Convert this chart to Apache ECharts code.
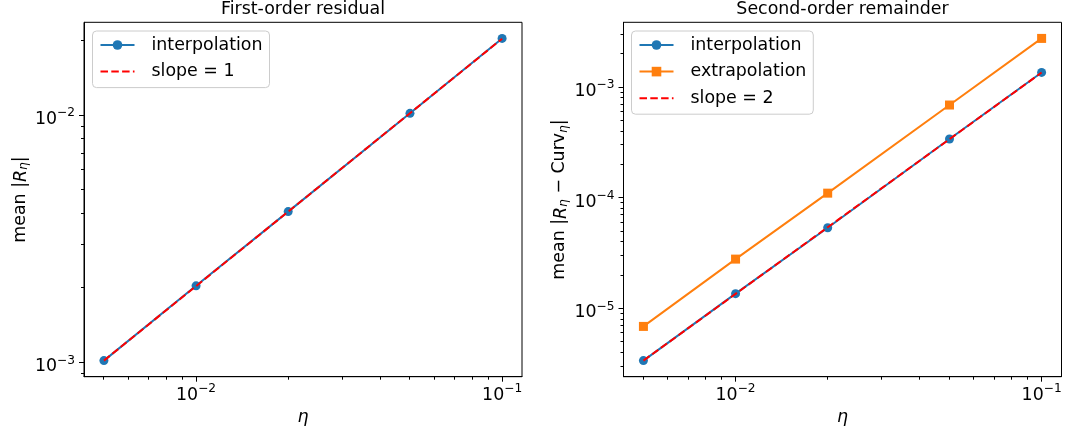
<!DOCTYPE html>
<html>
<head>
<meta charset="utf-8">
<script src="https://cdn.jsdelivr.net/npm/echarts@6/dist/echarts.min.js"></script>
<style>
html,body{margin:0;padding:0;background:#fff;}
#c{width:1067px;height:433px;}
</style>
</head>
<body>
<div id="c"></div>
<script>
// ---------- data ----------
const eta = [0.005, 0.01, 0.02, 0.05, 0.1];
const firstInterp = [0.001017, 0.00204, 0.00407, 0.01016, 0.0204];
const firstSlope1 = [0.001017, 0.002034, 0.004068, 0.01017, 0.02034];
const secondInterp = [3.38e-6, 1.36e-5, 5.36e-5, 3.39e-4, 1.355e-3];
const secondExtrap = [6.88e-6, 2.79e-5, 1.10e-4, 6.88e-4, 2.75e-3];
const secondSlope2 = [3.38e-6, 1.352e-5, 5.408e-5, 3.38e-4, 1.352e-3];

const titles = ['First-order residual', 'Second-order remainder'];
const names1 = ['interpolation', 'slope = 1'];
const names2 = ['interpolation', 'extrapolation', 'slope = 2'];
const xName = 'η';
const yName1 = 'mean |{i|R}{s|η}|';
const yName2 = 'mean |{i|R}{s|η} − Curv{s|η}|';

// axis ranges and tick values
const xRange = [0.004304, 0.11614];
const y1Range = [0.0008755, 0.02370];
const y2Range = [2.417e-6, 3.845e-3];
const xMajor = [0.01, 0.1];
const xMinor = [0.005, 0.006, 0.007, 0.008, 0.009, 0.02, 0.03, 0.04, 0.05, 0.06, 0.07, 0.08, 0.09];
const y1Major = [0.001, 0.01];
const y1Minor = [0.0009, 0.002, 0.003, 0.004, 0.005, 0.006, 0.007, 0.008, 0.009, 0.02];
const y2Major = [1e-5, 1e-4, 1e-3];
const y2Minor = [3e-6, 4e-6, 5e-6, 6e-6, 7e-6, 8e-6, 9e-6,
                 2e-5, 3e-5, 4e-5, 5e-5, 6e-5, 7e-5, 8e-5, 9e-5,
                 2e-4, 3e-4, 4e-4, 5e-4, 6e-4, 7e-4, 8e-4, 9e-4,
                 2e-3, 3e-3];

// ---------- styling ----------
const FF = 'DejaVu Sans';
const FS = 17.4;
const SFS = 12.2;
const BLUE = '#1f77b4', ORANGE = '#ff7f0e', RED = '#ff0000';

function powLabel(v) {
  const l = Math.log10(v);
  const e = Math.round(l);
  if (Math.abs(l - e) > 1e-6) return '';
  const es = e < 0 ? '−' + (-e) : String(e);
  return '{b|10}{s|' + es + '}';
}
const labelRich = {
  b: {fontSize: FS, fontFamily: FF, color: '#000', lineHeight: 21, verticalAlign: 'bottom'},
  s: {fontSize: SFS, fontFamily: FF, color: '#000', lineHeight: 11, verticalAlign: 'top'}
};
const nameRich = {
  i: {fontSize: FS, fontFamily: FF, fontStyle: 'italic', color: '#000', lineHeight: 20, verticalAlign: 'bottom'},
  s: {fontSize: SFS, fontFamily: FF, fontStyle: 'italic', color: '#000', lineHeight: 12, verticalAlign: 'bottom'}
};

const grids = [
  {left: 84, top: 22.3, width: 438, height: 354.4},
  {left: 623.5, top: 22.3, width: 438, height: 354.4}
];

function xAxisDef(gi) {
  return {
    type: 'log', logBase: 10, gridIndex: gi,
    min: xRange[0], max: xRange[1],
    name: xName, nameLocation: 'middle', nameGap: 29,
    nameTextStyle: {fontSize: FS, fontFamily: FF, fontStyle: 'italic', color: '#000'},
    axisLine: {show: true, lineStyle: {color: '#000', width: 1}},
    axisTick: {show: false},
    splitLine: {show: false},
    minorTick: {show: false},
    axisLabel: {formatter: powLabel, margin: 6, rich: labelRich, showMinLabel: true, showMaxLabel: true, hideOverlap: false}
  };
}
function yAxisDef(gi, range, name, gap) {
  return {
    type: 'log', logBase: 10, gridIndex: gi,
    min: range[0], max: range[1],
    name: name, nameLocation: 'middle', nameGap: gap, nameRotate: 90,
    nameTextStyle: {fontSize: FS, fontFamily: FF, color: '#000', lineHeight: 20, rich: nameRich},
    axisLine: {show: true, lineStyle: {color: '#000', width: 1}},
    axisTick: {show: false},
    splitLine: {show: false},
    minorTick: {show: false},
    axisLabel: {formatter: powLabel, margin: 9, padding: [5, 0, 0, 0], rich: labelRich, hideOverlap: false}
  };
}

function crisp(v) { return Math.round(v - 0.5) + 0.5; }

function xTicks(gi, vals, len, yRef) {
  return {
    type: 'custom', xAxisIndex: gi, yAxisIndex: gi, silent: true, clip: false, z: 6,
    data: vals.map(v => [v, yRef]),
    renderItem: function (params, api) {
      const p = api.coord([api.value(0), api.value(1)]);
      const cs = params.coordSys;
      const yb = cs.y + cs.height;
      const x = crisp(p[0]);
      return {type: 'line', shape: {x1: x, y1: yb, x2: x, y2: yb + len},
              style: {stroke: '#000', lineWidth: 1}};
    }
  };
}
function yTicks(gi, vals, len, xRef) {
  return {
    type: 'custom', xAxisIndex: gi, yAxisIndex: gi, silent: true, clip: false, z: 6,
    data: vals.map(v => [xRef, v]),
    renderItem: function (params, api) {
      const p = api.coord([api.value(0), api.value(1)]);
      const cs = params.coordSys;
      const xl = cs.x;
      const y = crisp(p[1]);
      return {type: 'line', shape: {x1: xl - len, y1: y, x2: xl, y2: y},
              style: {stroke: '#000', lineWidth: 1}};
    }
  };
}

function pts(ys) { return eta.map((x, i) => [x, ys[i]]); }

const lineSeries = [
  {name: names1[0], type: 'line', xAxisIndex: 0, yAxisIndex: 0, data: pts(firstInterp),
   symbol: 'circle', symbolSize: 9, showSymbol: true, z: 2,
   lineStyle: {color: BLUE, width: 2}, itemStyle: {color: BLUE}},
  {name: names1[1], type: 'line', xAxisIndex: 0, yAxisIndex: 0, data: pts(firstSlope1),
   symbol: 'none', z: 3,
   lineStyle: {color: RED, width: 2, type: [7.5, 3.3]}, itemStyle: {color: RED}},
  {name: names2[0], type: 'line', xAxisIndex: 1, yAxisIndex: 1, data: pts(secondInterp),
   symbol: 'circle', symbolSize: 9, z: 2,
   lineStyle: {color: BLUE, width: 2}, itemStyle: {color: BLUE}},
  {name: names2[1], type: 'line', xAxisIndex: 1, yAxisIndex: 1, data: pts(secondExtrap),
   symbol: 'rect', symbolSize: 9, z: 2,
   lineStyle: {color: ORANGE, width: 2}, itemStyle: {color: ORANGE}},
  {name: names2[2], type: 'line', xAxisIndex: 1, yAxisIndex: 1, data: pts(secondSlope2),
   symbol: 'none', z: 3,
   lineStyle: {color: RED, width: 2, type: [7.5, 3.3]}, itemStyle: {color: RED}}
];

const legendCommon = {
  orient: 'vertical', itemWidth: 34, itemHeight: 12, itemGap: 6.6,
  padding: [4, 7, 6, 7],
  backgroundColor: 'rgba(255,255,255,0.8)', borderColor: '#cccccc', borderWidth: 1, borderRadius: 4,
  textStyle: {fontSize: FS, fontFamily: FF, color: '#000', lineHeight: 20, padding: [0, 0, 0, 12]},
  selectedMode: false
};
function legendData(names) {
  return names.map(n => n.indexOf('slope') === 0
    ? {name: n, itemStyle: {opacity: 0, color: 'rgba(0,0,0,0)', borderWidth: 0}}
    : {name: n});
}

function titleText(text, cx) {
  return {
    type: 'text', x: cx, y: 9, z: 10, silent: true,
    style: {text: text, fontSize: FS, fontFamily: FF, fill: '#000',
            align: 'center', verticalAlign: 'middle'}
  };
}

const option = {
  animation: false,
  backgroundColor: '#fff',
  textStyle: {fontFamily: FF},
  graphic: [titleText(titles[0], 303), titleText(titles[1], 842.5)],
  legend: [
    Object.assign({}, legendCommon, {left: 92.5, top: 31, data: legendData(names1)}),
    Object.assign({}, legendCommon, {left: 631.5, top: 31, data: legendData(names2)})
  ],
  grid: grids.map(g => Object.assign({show: true, borderColor: '#000', borderWidth: 1,
    backgroundColor: 'transparent', containLabel: false, outerBoundsMode: 'none'}, g)),
  xAxis: [xAxisDef(0), xAxisDef(1)],
  yAxis: [yAxisDef(0, y1Range, yName1, 54), yAxisDef(1, y2Range, yName2, 54)],
  series: lineSeries.concat([
    xTicks(0, xMajor, 5, y1Range[0]), xTicks(0, xMinor, 3, y1Range[0]),
    yTicks(0, y1Major, 5, xRange[0]), yTicks(0, y1Minor, 3, xRange[0]),
    xTicks(1, xMajor, 5, y2Range[0]), xTicks(1, xMinor, 3, y2Range[0]),
    yTicks(1, y2Major, 5, xRange[0]), yTicks(1, y2Minor, 3, xRange[0])
  ])
};

const chart = echarts.init(document.getElementById('c'), null, {renderer: 'canvas'});
chart.setOption(option);
</script>
</body>
</html>
